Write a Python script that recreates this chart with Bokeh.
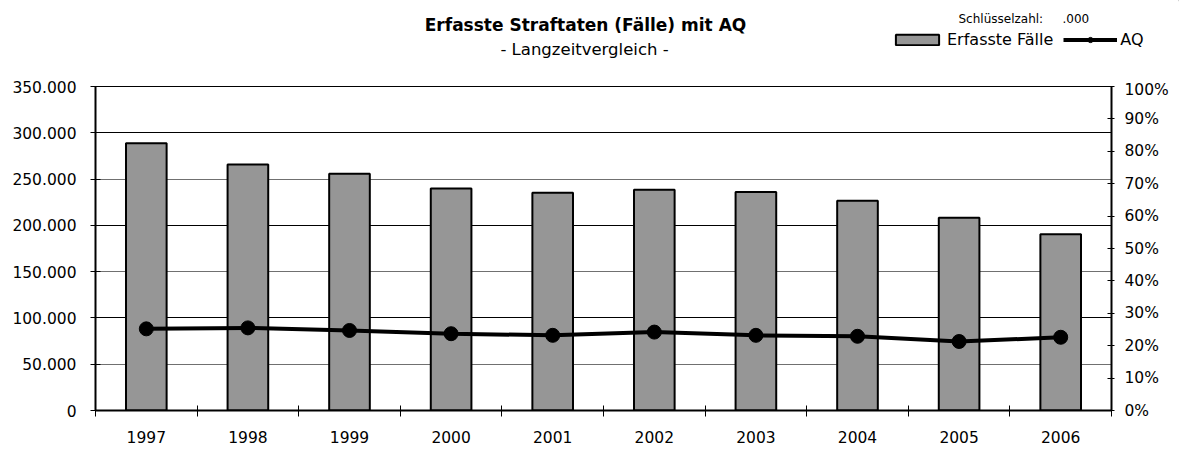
from bokeh.plotting import figure
from bokeh.layouts import column
from bokeh.models import (Range1d, LinearAxis, FixedTicker, NumeralTickFormatter,
                          Label, Legend, LegendItem, Grid, CDSView, IndexFilter,
                          ColumnDataSource)
from bokeh.embed import file_html
from bokeh.resources import INLINE

# ---- data ----
years = [1997, 1998, 1999, 2000, 2001, 2002, 2003, 2004, 2005, 2006]
year_labels = ["1997", "1998", "1999", "2000", "2001", "2002", "2003", "2004", "2005", "2006"]
faelle = [288800, 265700, 255700, 239800, 235100, 238400, 235900, 226500, 208100, 190500]
aq = [0.252, 0.255, 0.247, 0.237, 0.232, 0.242, 0.232, 0.229, 0.213, 0.226]
left_ticks = [0, 50000, 100000, 150000, 200000, 250000, 300000, 350000]
grid_dark = [100000, 200000, 300000]
grid_light = [50000, 150000, 250000]
right_ticks = [0.0, 0.1, 0.2, 0.3, 0.4, 0.5, 0.6, 0.7, 0.8, 0.9, 1.0]

title_text = "Erfasste Straftaten (Fälle) mit AQ"
subtitle_text = "- Langzeitvergleich -"
key_text = "Schlüsselzahl:"
key_value = ".000"
series_bar = "Erfasste Fälle"
series_line = "AQ"

FONT = "DejaVu Sans"
W = 1179
HEAD_H = 80
MAIN_H = 449 - HEAD_H

BAR_FILL = "#969696"

# ---- header (title, key, legend) ----
head = figure(width=W, height=HEAD_H, output_backend="svg", toolbar_location=None,
              title=None, x_range=Range1d(0, W), y_range=Range1d(HEAD_H, 0),
              min_border=0, x_axis_type=None, y_axis_type=None)
head.frame_align = False
head.outline_line_color = None
head.xgrid.grid_line_color = None
head.ygrid.grid_line_color = None
head.background_fill_color = "white"
head.border_fill_color = "white"

head.add_layout(Label(x=585, y=24, text=title_text, text_font=FONT,
                      text_font_size="17px", text_font_style="bold",
                      text_align="center", text_baseline="alphabetic", text_color="black"))
head.add_layout(Label(x=584, y=49, text=subtitle_text, text_font=FONT,
                      text_font_size="16.5px",
                      text_align="center", text_baseline="alphabetic", text_color="black"))
head.add_layout(Label(x=958, y=18, text=key_text, text_font=FONT,
                      text_font_size="12px",
                      text_align="left", text_baseline="alphabetic", text_color="black"))
head.add_layout(Label(x=1062, y=18, text=key_value, text_font=FONT,
                      text_font_size="12px",
                      text_align="left", text_baseline="alphabetic", text_color="black"))

# legend proxies: one point of the series, which falls outside the header's pixel ranges
proxy_src = ColumnDataSource(data=dict(x=years, top=faelle, aq=aq))
proxy_bar = head.vbar(x="x", top="aq", width=0.4, source=proxy_src,
                      view=CDSView(filter=IndexFilter(indices=[0])),
                      fill_color=BAR_FILL, line_color="black", line_width=2)
proxy_line = head.line(x="x", y="aq", source=proxy_src,
                       view=CDSView(filter=IndexFilter(indices=[0])),
                       line_color="black", line_width=4)
proxy_dot = head.scatter(x="x", y="aq", source=proxy_src,
                         view=CDSView(filter=IndexFilter(indices=[0])),
                         size=14, fill_color="black", line_color="black")

legend = Legend(items=[LegendItem(label=series_bar, renderers=[proxy_bar]),
                       LegendItem(label=series_line, renderers=[proxy_line, proxy_dot])],
                location=(890, 31), orientation="horizontal",
                glyph_width=54, glyph_height=13, label_height=13,
                label_standoff=3, spacing=10, padding=0, margin=0,
                label_text_font=FONT, label_text_font_size="16px",
                label_text_color="black", label_text_baseline="middle",
                background_fill_alpha=0, border_line_color=None)
head.add_layout(legend, "center")

# ---- main chart ----
p = figure(width=W, height=MAIN_H, output_backend="svg", toolbar_location=None,
           title=None,
           x_range=Range1d(years[0] - 0.5, years[-1] + 0.5),
           y_range=Range1d(0, 350000),
           min_border_left=95, min_border_right=68,
           min_border_top=6, min_border_bottom=39,
           x_axis_type=None, y_axis_type=None)
p.frame_align = False
p.extra_y_ranges = {"pct": Range1d(0, 1)}
p.outline_line_color = "black"
p.outline_line_width = 1
p.background_fill_color = "white"
p.border_fill_color = "white"

xaxis = LinearAxis()
boundaries = [y - 0.5 for y in years] + [years[-1] + 0.5]
xaxis.ticker = FixedTicker(ticks=years, minor_ticks=boundaries)
xaxis.major_label_overrides = {y: l for y, l in zip(years, year_labels)}
xaxis.major_tick_in = 0
xaxis.major_tick_out = 0
xaxis.minor_tick_in = 5
xaxis.minor_tick_out = 6
xaxis.minor_tick_line_color = "black"
xaxis.minor_tick_line_width = 1
xaxis.axis_line_width = 2
xaxis.axis_line_color = "black"
xaxis.major_label_standoff = 14
xaxis.major_label_text_font = FONT
xaxis.major_label_text_font_size = "15.5px"
xaxis.major_label_text_color = "black"
p.add_layout(xaxis, "below")

yaxis = LinearAxis()
yaxis.ticker = FixedTicker(ticks=left_ticks)
yaxis.major_label_overrides = {v: (f"{v:,}".replace(",", ".")) for v in left_ticks}
yaxis.major_tick_in = 5
yaxis.major_tick_out = 5
yaxis.minor_tick_line_color = None
yaxis.major_tick_line_color = "black"
yaxis.axis_line_width = 2
yaxis.axis_line_color = "black"
yaxis.major_label_standoff = 14
yaxis.major_label_text_font = FONT
yaxis.major_label_text_font_size = "15.5px"
yaxis.major_label_text_color = "black"
p.add_layout(yaxis, "left")

raxis = LinearAxis(y_range_name="pct")
raxis.ticker = FixedTicker(ticks=right_ticks)
raxis.formatter = NumeralTickFormatter(format="0%")
raxis.major_tick_in = 4
raxis.major_tick_out = 3
raxis.minor_tick_line_color = None
raxis.major_tick_line_color = "black"
raxis.axis_line_width = 2
raxis.axis_line_color = "black"
raxis.major_label_standoff = 10
raxis.major_label_text_font = FONT
raxis.major_label_text_font_size = "15.5px"
raxis.major_label_text_color = "black"
p.add_layout(raxis, "right")

p.add_layout(Grid(dimension=1, ticker=FixedTicker(ticks=grid_dark),
                  grid_line_color="black", grid_line_width=1), "center")
p.add_layout(Grid(dimension=1, ticker=FixedTicker(ticks=grid_light),
                  grid_line_color="#707070", grid_line_width=1), "center")

bars = p.vbar(x=years, top=faelle, width=0.4, fill_color=BAR_FILL,
              line_color="black", line_width=2)
line = p.line(x=years, y=aq, y_range_name="pct", line_color="black", line_width=4)
dots = p.scatter(x=years, y=aq, y_range_name="pct", size=14,
                 fill_color="black", line_color="black")

layout = column(head, p, spacing=0)
open("out.html", "w").write(file_html(layout, INLINE))
